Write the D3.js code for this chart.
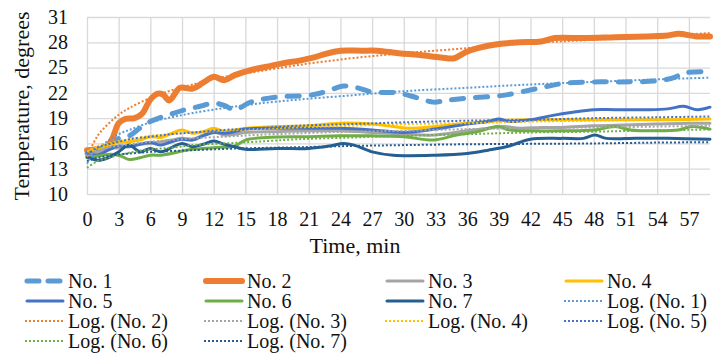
<!DOCTYPE html>
<html>
<head>
<meta charset="utf-8">
<script src="https://cdn.jsdelivr.net/npm/d3@7"></script>
<style>
body { margin: 0; background: #fff; }
text { font-family: "Liberation Serif", "Times New Roman", serif; fill: #111; }
</style>
</head>
<body>
<svg id="chart" width="713" height="354"></svg>
<script>
// tick labels
var xTicks = [0, 3, 6, 9, 12, 15, 18, 21, 24, 27, 30, 33, 36, 39, 42, 45, 48, 51, 54, 57];
var yTicks = [10, 13, 16, 19, 22, 25, 28, 31];

// measured series, [minute, degrees]
var no1 = [[0,14.8],[1,14.9],[2,15.5],[3,16.6],[4,16.9],[5,17.8],[6,18.6],[7,19.1],[8,19.5],[9,19.9],[10,20.2],[11,20.5],[12,20.8],[13,20.5],[14,20.0],[15.5,20.9],[18,21.5],[21,21.7],[22.5,22.1],[24.3,22.8],[25.6,22.6],[27,22.1],[29.4,22.0],[31.3,21.4],[32.8,20.9],[34,21.1],[36.3,21.4],[39.4,21.7],[42.6,22.5],[45,23.1],[48,23.3],[50.5,23.3],[53.7,23.4],[55.3,23.7],[56.8,24.4],[59,24.5]];
var no2 = [[0,15.2],[1,15.3],[1.8,15.5],[2.4,16.6],[3,18.4],[3.6,18.9],[4.5,19.0],[5.2,19.5],[6,21.2],[6.7,21.9],[7.2,21.8],[7.8,21.1],[8.8,22.6],[10,22.5],[11,23.2],[12,23.9],[13,23.5],[14,24.1],[15.5,24.7],[17,25.1],[18.5,25.5],[20,25.8],[21.5,26.2],[22.5,26.6],[24,27.0],[26,27.0],[27.5,27.0],[29.5,26.7],[31.5,26.5],[33.5,26.2],[34.8,26.1],[35.8,26.8],[37,27.3],[39,27.8],[41,28.0],[43,28.1],[44.3,28.5],[47,28.5],[50,28.6],[53,28.7],[55,28.8],[56,29.0],[57.7,28.7],[59,28.7]];
var no3 = [[0,14.6],[1,15.0],[2,15.4],[3,15.5],[4,15.7],[5,15.9],[6,16.0],[7,16.2],[8,16.4],[9,16.6],[10,16.5],[11,17.0],[12,17.4],[13,17.0],[14,17.1],[15,17.3],[18,17.4],[21,17.5],[24,17.5],[27,17.3],[30,17.1],[33,17.0],[36,17.5],[38,17.8],[39.5,18.0],[41,17.8],[43,17.9],[45,17.9],[48,18.1],[51,18.2],[54,18.3],[57,18.4],[59,18.4]];
var no4 = [[0,15.0],[1,15.4],[2,15.8],[3,16.1],[4,16.2],[5,16.4],[6,16.8],[7,16.7],[8,17.2],[9,17.6],[10,17.2],[11,17.4],[12,17.8],[13,17.4],[14,17.6],[15,17.8],[18,18.0],[21,18.1],[24,18.4],[27,18.3],[29,18.0],[30.5,17.8],[33,18.0],[36,18.4],[39,18.7],[42,18.8],[45,18.8],[50,18.8],[55,18.8],[59,18.9]];
var no5 = [[0,15.0],[1,14.6],[2,15.2],[3,15.7],[4,15.6],[5,15.9],[6,16.1],[7,15.8],[8,16.2],[9,16.5],[10,16.4],[11,16.9],[12,17.3],[13,17.2],[14,17.4],[15,17.7],[18,17.8],[21,17.8],[24,17.8],[27,17.6],[30,17.3],[33,17.7],[36,18.3],[38,18.6],[39,18.9],[40,18.6],[42,18.8],[44,19.3],[46,19.7],[48,20.0],[50,20.0],[53,20.0],[55,20.1],[56.5,20.4],[57.8,20.0],[59,20.3]];
var no6 = [[0,14.3],[1,14.5],[2,14.7],[3,14.6],[4,14.1],[5,14.3],[6,14.6],[7,14.6],[8,14.8],[9,15.1],[10,15.3],[12,15.5],[14,15.7],[15,16.4],[17,16.7],[21,16.8],[24,16.9],[27,16.9],[30,16.8],[32.8,16.4],[35,17.0],[37,17.4],[38.9,18.0],[40,17.6],[42,17.5],[45,17.5],[48,17.6],[50,18.0],[51.5,17.6],[54,17.5],[56,17.6],[57.3,18.0],[59,17.7]];
var no7 = [[0,14.4],[1,14.0],[2,14.3],[3,15.0],[4,15.8],[5,15.0],[6,15.4],[7,15.0],[8,15.5],[9,16.0],[10,15.6],[11,15.9],[12,16.3],[13,15.9],[14,15.6],[15,15.3],[18,15.4],[21,15.4],[23,15.7],[24.3,16.0],[25.3,15.8],[27,15.0],[29,14.6],[33,14.6],[36,14.8],[38,15.2],[40,15.7],[42,16.5],[45,16.6],[47,16.6],[48.1,17.0],[49.2,16.6],[52,16.6],[55,16.6],[59,16.5]];

// logarithmic trendlines
var logNo1 = [[0,13.6],[1,15.3],[2,16.3],[3,17.1],[4,17.6],[6,18.5],[8,19.1],[10,19.6],[13,20.2],[16,20.7],[20,21.2],[25,21.7],[30,22.2],[36,22.6],[42,23.0],[48,23.3],[54,23.6],[59,23.8]];
var logNo2 = [[0,14.4],[1,16.9],[2,18.3],[3,19.4],[4,20.2],[6,21.4],[8,22.3],[10,23.0],[13,23.9],[16,24.5],[20,25.3],[25,26.1],[30,26.7],[36,27.3],[42,27.9],[48,28.3],[54,28.7],[59,29.1]];
var logNo3 = [[0,14.5],[1,15.1],[2,15.5],[3,15.7],[4,15.9],[6,16.2],[8,16.4],[10,16.6],[13,16.8],[16,17.0],[20,17.2],[25,17.4],[30,17.5],[36,17.7],[42,17.8],[48,17.9],[54,18.0],[59,18.1]];
var logNo4 = [[0,15.0],[1,15.7],[2,16.0],[3,16.3],[4,16.5],[6,16.9],[8,17.1],[10,17.3],[13,17.5],[16,17.7],[20,17.9],[25,18.1],[30,18.3],[36,18.4],[42,18.6],[48,18.7],[54,18.8],[59,18.9]];
var logNo5 = [[0,14.7],[1,15.5],[2,15.9],[3,16.2],[4,16.5],[6,16.8],[8,17.1],[10,17.3],[13,17.6],[16,17.8],[20,18.1],[25,18.3],[30,18.5],[36,18.7],[42,18.8],[48,19.0],[54,19.1],[59,19.2]];
var logNo6 = [[0,13.1],[1,13.9],[2,14.3],[3,14.6],[4,14.9],[6,15.3],[8,15.5],[10,15.8],[13,16.0],[16,16.2],[20,16.5],[25,16.7],[30,16.9],[36,17.1],[42,17.3],[48,17.4],[54,17.55],[59,17.65]];
var logNo7 = [[0,13.9],[1,14.3],[2,14.5],[3,14.7],[4,14.8],[6,15.0],[8,15.1],[10,15.2],[13,15.35],[16,15.45],[20,15.55],[25,15.7],[30,15.8],[36,15.9],[42,15.95],[48,16.0],[54,16.1],[59,16.15]];

var names = ["No. 1", "No. 2", "No. 3", "No. 4", "No. 5", "No. 6", "No. 7"];
var seriesData = [no1, no2, no3, no4, no5, no6, no7];
var trendData = [logNo1, logNo2, logNo3, logNo4, logNo5, logNo6, logNo7];

var colors = ["#5B9BD5", "#ED7D31", "#A5A5A5", "#FFC000", "#4472C4", "#70AD47", "#255E91"];
var widths = [5, 6, 3, 3, 3, 3, 3];

var svg = d3.select("#chart");

// plot box
var pLeft = 87, pRight = 710, pTop = 17, pBottom = 194;

var x = d3.scaleLinear().domain([0, 59]).range([pLeft, pRight]);
var y = d3.scaleLinear().domain([10, 31]).range([pBottom, pTop]);

// grid + tick labels
var xAxis = svg.append("g")
    .attr("transform", "translate(0," + pBottom + ")")
    .call(d3.axisBottom(x).tickValues(xTicks).tickSize(-(pBottom - pTop)).tickPadding(18));
var yAxis = svg.append("g")
    .attr("transform", "translate(" + pLeft + ",0)")
    .call(d3.axisLeft(y).tickValues(yTicks).tickSize(-(pRight - pLeft)).tickPadding(19));

[xAxis, yAxis].forEach(function(a) {
    a.select(".domain").remove();
    a.selectAll("line").attr("stroke", "#d9d9d9").attr("stroke-width", 1.3);
    a.selectAll("text").style("font-size", "20px").attr("fill", "#111")
        .style("font-family", '"Liberation Serif", serif');
});

// axis titles
svg.append("text")
    .attr("x", 355)
    .attr("y", 253)
    .attr("text-anchor", "middle")
    .style("font-size", "22px")
    .text("Time, min");

svg.append("text")
    .attr("transform", "translate(29,106) rotate(-90)")
    .attr("text-anchor", "middle")
    .style("font-size", "22px")
    .text("Temperature, degrees");

var line = d3.line()
    .x(function(d) { return x(d[0]); })
    .y(function(d) { return y(d[1]); })
    .curve(d3.curveCatmullRom.alpha(0.5));

var plot = svg.append("g");

// main series
plot.selectAll("path.series")
    .data(seriesData)
    .enter()
    .append("path")
    .attr("class", "series")
    .attr("d", line)
    .attr("fill", "none")
    .attr("stroke", function(d, i) { return colors[i]; })
    .attr("stroke-width", function(d, i) { return widths[i]; })
    .attr("stroke-linejoin", "round")
    .attr("stroke-linecap", "round")
    .attr("stroke-dasharray", function(d, i) { return i == 0 ? "12,12" : null; });

// log trendlines (dotted)
plot.selectAll("path.trend")
    .data(trendData)
    .enter()
    .append("path")
    .attr("class", "trend")
    .attr("d", line)
    .attr("fill", "none")
    .attr("stroke", function(d, i) { return colors[i]; })
    .attr("stroke-width", 2)
    .attr("stroke-dasharray", "2,2");

// legend: 7 series then 7 trendlines, 4 per row
var legendItems = [];
names.forEach(function(n, i) { legendItems.push({label: n, c: i, trend: false}); });
names.forEach(function(n, i) { legendItems.push({label: "Log. (" + n + ")", c: i, trend: true}); });

var colX = [25, 204, 385, 564];
var rowY = [281, 301, 321, 341];

var legend = svg.append("g")
    .selectAll("g.item")
    .data(legendItems)
    .enter()
    .append("g")
    .attr("class", "item")
    .attr("transform", function(d, i) {
        return "translate(" + colX[i % 4] + "," + rowY[Math.floor(i / 4)] + ")";
    });

legend.append("line")
    .attr("x1", function(d) { return d.trend ? 0 : 2; })
    .attr("x2", function(d) { return d.trend ? 40 : 38; })
    .attr("y1", 0)
    .attr("y2", 0)
    .attr("stroke", function(d) { return colors[d.c]; })
    .attr("stroke-width", function(d) { return d.trend ? 2 : widths[d.c]; })
    .attr("stroke-linecap", function(d) { return d.trend ? "butt" : "round"; })
    .attr("stroke-dasharray", function(d) {
        if (d.trend) return "2,2";
        return d.c == 0 ? "12,9" : null;
    });

legend.append("text")
    .attr("x", 43)
    .attr("y", 7)
    .style("font-size", "20px")
    .text(function(d) { return d.label; });
</script>
</body>
</html>
